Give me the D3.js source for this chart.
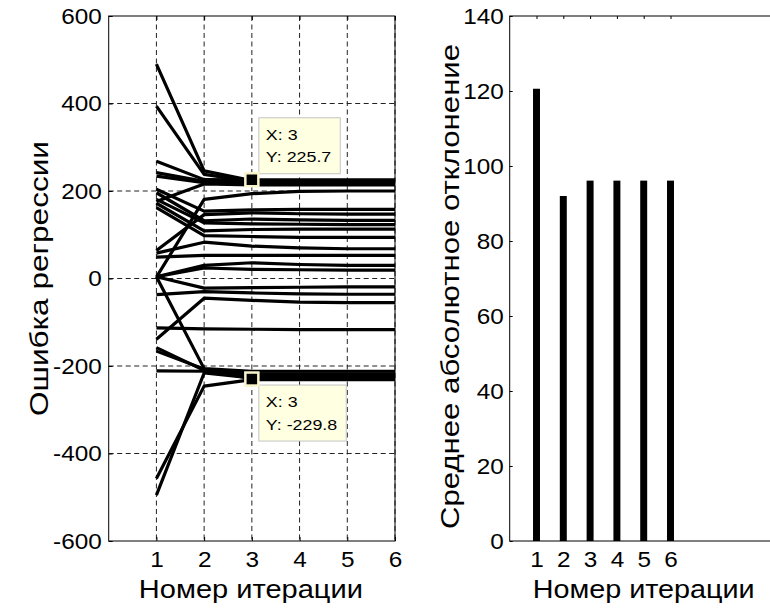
<!DOCTYPE html>
<html>
<head>
<meta charset="utf-8">
<script src="https://cdn.jsdelivr.net/npm/d3@7"></script>
<style>
  body { margin: 0; background: #fff; }
  text { font-family: "Liberation Sans", Arial, sans-serif; fill: #000; }
</style>
</head>
<body>
<svg id="chart" width="770" height="608"></svg>
<script>
// iterations on the x axis of both panels
const iterations = [1, 2, 3, 4, 5, 6];

// regression error of each observation per iteration (left panel)
const errorSeries = [
  [490, 246, 224, 224, 224, 224],
  [394, 238, 222, 222, 222, 222],
  [268, 226, 225.7, 225.7, 225.7, 225.7],
  [242, 222, 219, 219, 219, 219],
  [234, 219, 216, 216, 216, 216],
  [176, 216, 214, 214, 214, 214],
  [3, 181, 194, 199, 200, 200],
  [204, 154, 157, 158, 158, 158],
  [196, 132, 136, 134, 133, 133],
  [181, 127, 125, 124, 123, 123],
  [172, 109, 112, 113, 113, 113],
  [162, 98, 96, 94, 94, 94],
  [64, 146, 150, 148, 147, 147],
  [58, 83, 74, 70, 68, 68],
  [49, 53, 53, 53, 53, 53],
  [4, 30, 36, 32, 30, 30],
  [4, 24, 21, 20, 19, 19],
  [4, -22, -21, -20, -19, -19],
  [4, -206, -212, -212, -212, -212],
  [-37, -30, -33, -35, -36, -36],
  [-139, -45, -50, -54, -55, -55],
  [-158, -210, -218, -218, -218, -218],
  [-113, -115, -116, -117, -117, -117],
  [-166, -207, -229.8, -229.8, -229.8, -229.8],
  [-211, -212, -224, -224, -224, -224],
  [-457, -246, -231, -231, -231, -231],
  [-495, -216, -227, -228, -228, -228]
];

// data tips shown on the left panel
const tipX = [3, 3];
const tipY = [225.7, -229.8];

// mean absolute deviation per iteration (right panel)
const meanAbsDev = [120.6, 92, 96.1, 96.1, 96.1, 96.1];

const leftYTicks = [-600, -400, -200, 0, 200, 400, 600];
const leftGridY = [-400, -200, 0, 200, 400];
const rightYTicks = [0, 20, 40, 60, 80, 100, 120, 140];

const xTitle = "Номер итерации";
const leftYTitle = "Ошибка регрессии";
const rightYTitle = "Среднее абсолютное отклонение";

const svg = d3.select("#chart");
const plain = d => String(d); // keep hyphen minus like the original

// widen text a little, the original font runs wide
function stretch(sel, k) {
  sel.each(function () {
    const len = this.getComputedTextLength();
    this.setAttribute("textLength", len * k);
    this.setAttribute("lengthAdjust", "spacingAndGlyphs");
  });
}

// ---------- left panel ----------
const plotTop = 16, plotBottom = 541;
const x = d3.scaleLinear().domain([0, 6]).range([108.7, 395]);
const y = d3.scaleLinear().domain([-600, 600]).range([plotBottom, plotTop]);

const left = svg.append("g");

left.append("g")
  .selectAll("line")
  .data(iterations)
  .join("line")
  .attr("x1", d => x(d)).attr("x2", d => x(d))
  .attr("y1", plotTop).attr("y2", plotBottom)
  .attr("stroke", "#222").attr("stroke-width", 1)
  .attr("stroke-dasharray", "5,3.5");

left.append("g")
  .selectAll("line")
  .data(leftGridY)
  .join("line")
  .attr("x1", x(0)).attr("x2", x(6))
  .attr("y1", d => y(d)).attr("y2", d => y(d))
  .attr("stroke", "#222").attr("stroke-width", 1)
  .attr("stroke-dasharray", "5,3.5");

const line = d3.line()
  .x((d, i) => x(iterations[i]))
  .y(d => y(d));

left.append("g")
  .selectAll("path")
  .data(errorSeries)
  .join("path")
  .attr("d", line)
  .attr("fill", "none")
  .attr("stroke", "#000")
  .attr("stroke-width", 3.2)
  .attr("stroke-linejoin", "round");

left.append("g")
  .attr("transform", `translate(${x(0)},0)`)
  .call(d3.axisLeft(y).tickValues(leftYTicks).tickFormat(plain).tickSize(-4).tickPadding(7));
left.append("g")
  .attr("transform", `translate(0,${plotBottom})`)
  .call(d3.axisBottom(x).tickValues(iterations).tickFormat(plain).tickSize(-4).tickPadding(10));
left.append("g")
  .attr("transform", `translate(0,${plotTop})`)
  .call(d3.axisTop(x).tickValues(iterations).tickSize(-4).tickFormat(""));

left.append("rect")
  .attr("x", x(0)).attr("y", plotTop)
  .attr("width", x(6) - x(0)).attr("height", plotBottom - plotTop)
  .attr("fill", "none").attr("stroke", "#000").attr("stroke-width", 1);

// data tips
const tips = left.append("g")
  .selectAll("g")
  .data(tipX.map((d, i) => ({ x: d, y: tipY[i] })))
  .join("g");

tips.each(function (d) {
  const g = d3.select(this);
  const mx = x(d.x), my = y(d.y);
  const above = d.y > 0;
  const box = g.append("rect")
    .attr("fill", "#ffffe1").attr("stroke", "#c4c4c4").attr("stroke-width", 1);
  const t1 = g.append("text").attr("font-size", 15.5).text("X: " + d.x);
  const t2 = g.append("text").attr("font-size", 15.5).text("Y: " + d.y);
  stretch(t1, 1.15);
  stretch(t2, 1.15);
  const w = Math.max(+t1.attr("textLength"), +t2.attr("textLength")) + 16;
  const h = 56;
  const bx = mx + 7;
  const by = above ? my - 6 - h : my + 6;
  box.attr("x", bx).attr("y", by).attr("width", w).attr("height", h);
  t1.attr("x", bx + 7).attr("y", by + 22);
  t2.attr("x", bx + 7).attr("y", by + 44.5);
  g.append("rect")
    .attr("x", mx - 6.5).attr("y", my - 6.5)
    .attr("width", 13).attr("height", 13)
    .attr("fill", "#000").attr("stroke", "#f8f4cc").attr("stroke-width", 2.5);
});

// ---------- right panel ----------
const xr = d3.scaleLinear().domain([0, 10]).range([509.7, 777.7]);
const yr = d3.scaleLinear().domain([0, 140]).range([plotBottom, plotTop]);
const barW = xr(0.26) - xr(0);

const right = svg.append("g");

right.append("g")
  .selectAll("rect")
  .data(meanAbsDev)
  .join("rect")
  .attr("x", (d, i) => xr(iterations[i]) - barW / 2)
  .attr("y", d => yr(d))
  .attr("width", barW)
  .attr("height", d => yr(0) - yr(d))
  .attr("fill", "#000");

right.append("g")
  .attr("transform", `translate(${xr(0)},0)`)
  .call(d3.axisLeft(yr).tickValues(rightYTicks).tickFormat(plain).tickSize(-3).tickPadding(6));
right.append("g")
  .attr("transform", `translate(0,${plotBottom})`)
  .call(d3.axisBottom(xr).tickValues(iterations).tickFormat(plain).tickSize(-3).tickPadding(10));
right.append("g")
  .attr("transform", `translate(0,${plotTop})`)
  .call(d3.axisTop(xr).tickValues(iterations).tickSize(-3).tickFormat(""));

right.append("rect")
  .attr("x", xr(0)).attr("y", plotTop)
  .attr("width", xr(10) - xr(0)).attr("height", plotBottom - plotTop)
  .attr("fill", "none").attr("stroke", "#000").attr("stroke-width", 1);

// axis styling
svg.selectAll(".domain").remove();
svg.selectAll(".tick line").attr("stroke", "#000");
const tickTexts = svg.selectAll(".tick text")
  .attr("font-size", 22.5)
  .attr("font-family", "Liberation Sans, Arial, sans-serif")
  .attr("fill", "#000");
stretch(tickTexts, 1.08);

// titles
left.append("text")
  .attr("x", (x(0) + x(6)) / 2 - 1).attr("y", 598)
  .attr("text-anchor", "middle").attr("font-size", 25)
  .attr("textLength", 224).attr("lengthAdjust", "spacingAndGlyphs")
  .text(xTitle);
right.append("text")
  .attr("x", (xr(0) + xr(10)) / 2).attr("y", 598)
  .attr("text-anchor", "middle").attr("font-size", 25)
  .attr("textLength", 222).attr("lengthAdjust", "spacingAndGlyphs")
  .text(xTitle);
left.append("text")
  .attr("transform", `translate(48,${(plotTop + plotBottom) / 2}) rotate(-90)`)
  .attr("text-anchor", "middle").attr("font-size", 25)
  .attr("textLength", 275).attr("lengthAdjust", "spacingAndGlyphs")
  .text(leftYTitle);
right.append("text")
  .attr("transform", `translate(459,${(plotTop + plotBottom) / 2 + 8}) rotate(-90)`)
  .attr("text-anchor", "middle").attr("font-size", 25)
  .attr("textLength", 485).attr("lengthAdjust", "spacingAndGlyphs")
  .text(rightYTitle);
</script>
</body>
</html>
